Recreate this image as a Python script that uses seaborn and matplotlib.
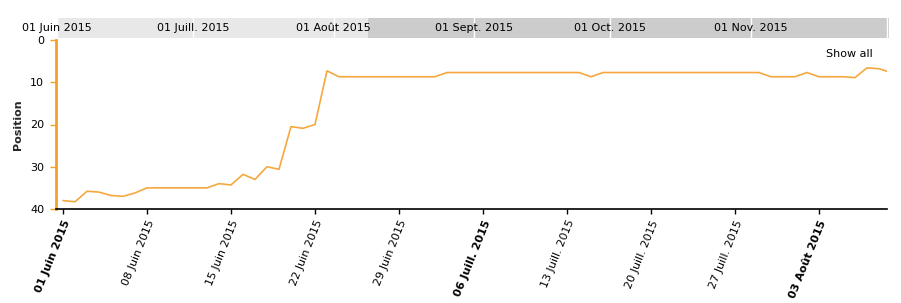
import matplotlib
matplotlib.use("Agg")
import matplotlib.pyplot as plt
import seaborn as sns
import pandas as pd

# ---- data (daily rank, from 01 Juin 2015) ----
start_date = "2015-06-01"
positions = [
    38.0, 38.3, 35.8, 36.0, 36.8, 37.0, 36.2, 35.0, 35.0, 35.0,   # Jun 1-10
    35.0, 35.0, 35.0, 34.0, 34.3, 31.8, 33.0, 30.0, 30.6, 20.5,   # Jun 11-20
    20.9, 20.0, 7.3, 8.7, 8.7, 8.7, 8.7, 8.7, 8.7, 8.7,           # Jun 21-30
    8.7, 8.7, 7.7, 7.7, 7.7, 7.7, 7.7, 7.7, 7.7, 7.7,             # Jul 1-10
    7.7, 7.7, 7.7, 7.7, 8.7, 7.7, 7.7, 7.7, 7.7, 7.7,             # Jul 11-20
    7.7, 7.7, 7.7, 7.7, 7.7, 7.7, 7.7, 7.7, 7.7, 8.7,             # Jul 21-30
    8.7, 8.7, 7.7, 8.7, 8.7, 8.7, 8.9, 6.6, 6.8, 7.7,             # Jul 31-Aug 9
]
week_labels = ["01 Juin 2015", "08 Juin 2015", "15 Juin 2015", "22 Juin 2015",
               "29 Juin 2015", "06 Juill. 2015", "13 Juill. 2015", "20 Juill. 2015",
               "27 Juill. 2015", "03 Août 2015"]
week_bold = [True, False, False, False, False, True, False, False, False, True]
month_labels = ["01 Juin 2015", "01 Juill. 2015", "01 Août 2015",
                "01 Sept. 2015", "01 Oct. 2015", "01 Nov. 2015"]
y_ticks = [0, 10, 20, 30, 40]

sns.set_theme(style="white")
plt.rcParams["font.family"] = ["DejaVu Sans"]

W, H = 901, 303
fig = plt.figure(figsize=(W / 100, H / 100), dpi=100)


def rect(x0, y0, x1, y1):
    return [x0 / W, 1 - y1 / H, (x1 - x0) / W, (y1 - y0) / H]


orange = "#f5a02a"
start = pd.Timestamp(start_date)

# ---- main chart ----
ax = fig.add_axes(rect(56, 40, 887, 209))
df = pd.DataFrame({
    "date": pd.date_range(start_date, periods=len(positions), freq="D"),
    "position": positions,
})
sns.lineplot(data=df, x="date", y="position", ax=ax, color="#f6a83e", lw=1.2)
ax.set_xlim(start - pd.Timedelta(days=0.583), start + pd.Timedelta(days=68.67))
ax.set_ylim(40, 0)
ax.set_yticks(y_ticks)
ax.set_yticklabels([str(v) for v in y_ticks], fontsize=8, color="black")
ax.tick_params(axis="y", left=True, length=4.5, width=1, color=orange, pad=4)

ticks = pd.date_range(start_date, periods=len(week_labels), freq="7D")
ax.set_xticks(ticks)
ax.set_xticklabels(week_labels, rotation=68, ha="right", rotation_mode="anchor",
                   fontsize=8, color="black")
for lbl, b in zip(ax.get_xticklabels(), week_bold):
    if b:
        lbl.set_fontweight("bold")
ax.tick_params(axis="x", bottom=True, length=3.8, width=1, color="black", pad=3)

ax.set_xlabel("")
ax.set_ylabel("Position", fontsize=8, fontweight="bold")
ax.yaxis.set_label_coords(-0.040, 0.5)

for s in ["top", "right"]:
    ax.spines[s].set_visible(False)
ax.spines["left"].set_color(orange)
ax.spines["left"].set_linewidth(2)
ax.spines["bottom"].set_color("black")
ax.spines["bottom"].set_linewidth(1.2)
ax.grid(False)

# ---- navigator bar ----
nav = fig.add_axes(rect(57, 18, 889, 38))
nav_start = pd.Timestamp("2015-06-01")
nav_end = pd.Timestamp("2015-12-01")
nav.set_xlim(nav_start, nav_end + pd.Timedelta(days=0.44))
nav.set_ylim(0, 1)
sel_end = start + pd.Timedelta(days=68.67)
nav.axvspan(nav_start, sel_end, color="#e8e8e8", lw=0)
nav.axvspan(sel_end, nav_end + pd.Timedelta(days=0.44), color="#cccccc", lw=0)
month_starts = pd.date_range("2015-06-01", periods=len(month_labels) + 1, freq="MS")
for d in month_starts:
    nav.axvline(d, color="white", lw=1)
for d, lab in zip(month_starts[:len(month_labels)], month_labels):
    nav.text(d, 0.5, lab, ha="center", va="center", fontsize=8, color="black",
             clip_on=False)
nav.set_xticks([])
nav.set_yticks([])
for s in nav.spines.values():
    s.set_visible(False)

fig.text(849 / W, 1 - 54 / H, "Show all", ha="center", va="center", fontsize=8,
         color="black")

fig.savefig("out.png", dpi=100)
